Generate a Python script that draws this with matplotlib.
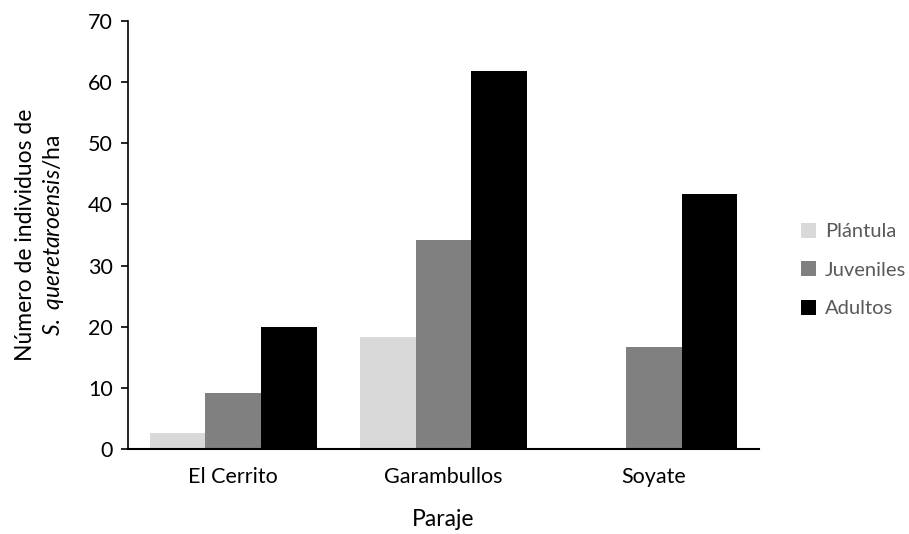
import matplotlib
matplotlib.use("Agg")
import matplotlib.pyplot as plt
import numpy as np

plt.rcParams['font.family'] = ['Lato', 'DejaVu Sans']
plt.rcParams['mathtext.fontset'] = 'custom'
plt.rcParams['mathtext.rm'] = 'Lato'
plt.rcParams['mathtext.it'] = 'Lato:italic'

categories = ["El Cerrito", "Garambullos", "Soyate"]
series_names = ["Plántula", "Juveniles", "Adultos"]
plantula = [2.6, 18.3, 0]
juveniles = [9.1, 34.2, 16.7]
adultos = [20.0, 61.8, 41.7]
colors = ["#d9d9d9", "#808080", "#000000"]

fig = plt.figure(figsize=(9.09, 5.34), dpi=100)
ax = fig.add_axes([128/909, 1-449/534, (759-128)/909, (449-21)/534])

x = np.arange(len(categories))
w = 0.265
for i, (vals, name, c) in enumerate(zip([plantula, juveniles, adultos], series_names, colors)):
    ax.bar(x + (i-1)*w, vals, w, color=c, label=name)

ax.set_xlim(-0.5, 2.5)
ax.set_ylim(0, 70)
ax.set_yticks(range(0, 71, 10))
ax.set_xticks(x)
ax.set_xticklabels(categories)
ax.tick_params(axis='x', length=0, pad=13, labelsize=15.5)
ax.tick_params(axis='y', length=5, width=1.2, direction='out', labelsize=15.5, pad=6)
for s in ['top', 'right']:
    ax.spines[s].set_visible(False)
ax.spines['left'].set_linewidth(1.2)
ax.spines['bottom'].set_linewidth(1.5)

ax.set_xlabel("Paraje", fontsize=16.5, labelpad=16)
ax.set_ylabel("Número de individuos de\n$\\it{S.\\ queretaroensis}$/ha", fontsize=16.5, labelpad=16, linespacing=1.25)

leg = ax.legend(loc='center left', bbox_to_anchor=((801-128)/631, (449-270)/428), frameon=False,
                fontsize=14.5, handlelength=0.75, handleheight=0.75, handletextpad=0.45,
                labelspacing=1.05, borderaxespad=0, borderpad=0)
for t in leg.get_texts():
    t.set_color("#595959")

fig.savefig("out.png", dpi=100)
